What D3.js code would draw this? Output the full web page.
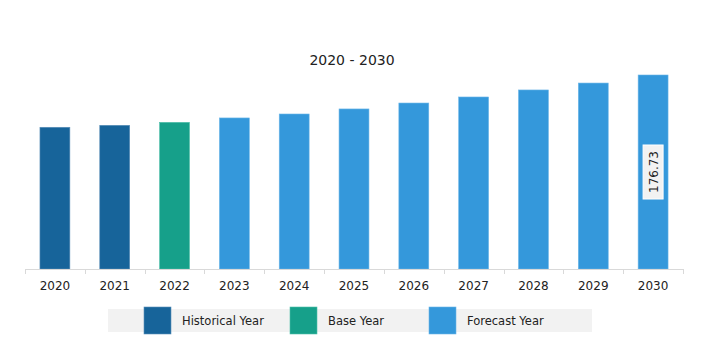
<!DOCTYPE html>
<html>
<head>
<meta charset="utf-8">
<script src="https://cdn.jsdelivr.net/npm/d3@7"></script>
<style>
  html, body { margin: 0; padding: 0; background: #fff; }
  svg { display: block; font-family: "DejaVu Sans", Verdana, sans-serif; }
</style>
</head>
<body>
<div id="chart"></div>
<script>
// --- Data ---
const years = ["2020", "2021", "2022", "2023", "2024", "2025", "2026", "2027", "2028", "2029", "2030"];
const values = [129.1, 130.9, 133.6, 137.6, 141.2, 145.8, 151.2, 156.7, 163.1, 169.4, 176.73];
const yearTypes = ["Historical Year", "Historical Year", "Base Year", "Forecast Year", "Forecast Year",
  "Forecast Year", "Forecast Year", "Forecast Year", "Forecast Year", "Forecast Year", "Forecast Year"];
const legendLabels = ["Historical Year", "Base Year", "Forecast Year"];
const labelledYear = "2030";

const colors = { "Historical Year": "#17649a", "Base Year": "#16a08a", "Forecast Year": "#3498db" };
const strokes = { "Historical Year": "#5a8fb8", "Base Year": "#4fbfa9", "Forecast Year": "#6cb6e8" };

const W = 723, H = 359;
const svg = d3.select("#chart").append("svg").attr("width", W).attr("height", H);

// --- Scales ---
const x = d3.scaleBand().domain(years).range([25, 683]).paddingInner(0.5).paddingOuter(0.25);
const y = d3.scaleLinear().domain([0, 176.73]).range([269, 75]);

// --- Title ---
svg.append("text")
  .attr("x", 352).attr("y", 65)
  .attr("text-anchor", "middle")
  .style("font-size", "14px")
  .style("fill", "#222")
  .text("2020 - 2030");

// --- Bars ---
const data = years.map((yr, i) => ({ year: yr, value: values[i], type: yearTypes[i] }));
svg.selectAll(".bar")
  .data(data)
  .join("rect")
  .attr("class", "bar")
  .attr("x", d => x(d.year))
  .attr("y", d => y(d.value))
  .attr("width", x.bandwidth())
  .attr("height", d => y(0) - y(d.value))
  .attr("fill", d => colors[d.type])
  .attr("stroke", d => strokes[d.type])
  .attr("stroke-width", 0.6);

// --- X axis ---
const axisY = 269;
svg.append("line")
  .attr("x1", 25).attr("x2", 683)
  .attr("y1", axisY + 0.5).attr("y2", axisY + 0.5)
  .style("stroke", "#d9d9d9");
const boundaries = years.map(yr => x(yr) - x.step() * x.paddingInner() / 2).concat([683]);
svg.selectAll(".tick-mark")
  .data(boundaries)
  .join("line")
  .attr("class", "tick-mark")
  .attr("x1", d => Math.round(d) + 0.5).attr("x2", d => Math.round(d) + 0.5)
  .attr("y1", axisY).attr("y2", axisY + 5)
  .style("stroke", "#d9d9d9");
svg.selectAll(".x-label")
  .data(years)
  .join("text")
  .attr("class", "x-label")
  .attr("x", d => x(d) + x.bandwidth() / 2)
  .attr("y", 290)
  .attr("text-anchor", "middle")
  .style("font-size", "12px")
  .style("fill", "#222")
  .text(d => d);

// --- Value label on the last bar ---
const last = data.find(d => d.year === labelledYear);
const cx = x(last.year) + x.bandwidth() / 2;
const cy = (y(last.value) + y(0)) / 2;
const lbl = svg.append("g").attr("transform", `translate(${cx},${cy}) rotate(-90)`);
lbl.append("rect")
  .attr("x", -27).attr("y", -10)
  .attr("width", 54).attr("height", 20)
  .attr("fill", "#f2f2f2")
  .attr("stroke", "#ffffff")
  .attr("stroke-width", 1);
lbl.append("text")
  .attr("x", 0).attr("y", 4.5)
  .attr("text-anchor", "middle")
  .style("font-size", "12px")
  .style("fill", "#222")
  .text(last.value.toFixed(2));

// --- Legend ---
svg.append("rect")
  .attr("x", 108).attr("y", 309)
  .attr("width", 484).attr("height", 23)
  .attr("fill", "#f2f2f2");
const legendX = [144, 290, 429];
const legend = svg.selectAll(".legend-item")
  .data(legendLabels)
  .join("g")
  .attr("class", "legend-item")
  .attr("transform", (d, i) => `translate(${legendX[i]},307)`);
legend.append("rect")
  .attr("width", 27).attr("height", 27)
  .attr("fill", d => colors[d])
  .attr("stroke", d => strokes[d])
  .attr("stroke-width", 0.6);
legend.append("text")
  .attr("x", 38).attr("y", 18)
  .style("font-size", "11.5px")
  .style("fill", "#222")
  .text(d => d);
</script>
</body>
</html>
